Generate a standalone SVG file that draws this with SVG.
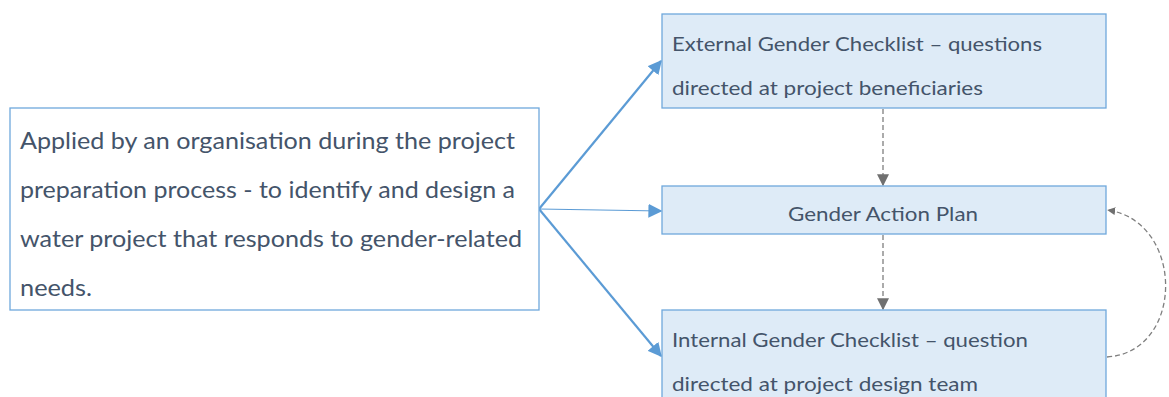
<svg xmlns="http://www.w3.org/2000/svg" width="1169" height="397" viewBox="0 0 1169 397">
<style>
.box{fill:#deebf7;stroke:#6fa8dc;stroke-width:1.3}
.left{fill:#ffffff;stroke:#6fa8dc;stroke-width:1.3}
.t{font-family:Lato,"Liberation Sans",Arial,sans-serif;fill:#44546a}
.l{font-size:23px}
.s{font-size:20px}
.blue{stroke:#5b9bd5;fill:none}
.gray{stroke:#7f7f7f;fill:none;stroke-width:1.3;stroke-dasharray:5,3}
</style>
<defs>
<marker id="abw" viewBox="0 0 10 10" refX="9" refY="5" markerWidth="14" markerHeight="14" markerUnits="userSpaceOnUse" orient="auto">
<path d="M0,0 L10,5 L0,10 z" fill="#5b9bd5"/>
</marker>
<marker id="ag" viewBox="0 0 10 10" refX="9" refY="5" markerWidth="12" markerHeight="12" markerUnits="userSpaceOnUse" orient="auto">
<path d="M0,0 L10,5 L0,10 z" fill="#707070"/>
</marker>
<marker id="ags" viewBox="0 0 10 10" refX="9" refY="5" markerWidth="8" markerHeight="8" markerUnits="userSpaceOnUse" orient="auto">
<path d="M0,0 L10,5 L0,10 z" fill="#707070"/>
</marker>
</defs>
<g id="connectors">
<line class="blue" x1="539" y1="209" x2="661" y2="61" stroke-width="2.2" marker-end="url(#abw)"/>
<line class="blue" x1="539" y1="209" x2="661" y2="211" stroke-width="1.2" marker-end="url(#abw)"/>
<line class="blue" x1="539" y1="209" x2="661" y2="356" stroke-width="2.2" marker-end="url(#abw)"/>
<line class="gray" x1="883" y1="109" x2="883" y2="185" marker-end="url(#ag)"/>
<line class="gray" x1="883" y1="235" x2="883" y2="309" marker-end="url(#ag)"/>
<path class="gray" d="M1107,357 C1185,352 1185,222 1108,210" marker-end="url(#ags)"/>
</g>
<g id="node-left">
<rect class="left" x="10" y="108" width="529" height="202"/>
<text class="t l" x="20" y="149" textLength="495" lengthAdjust="spacingAndGlyphs">Applied by an organisation during the project</text>
<text class="t l" x="20" y="198" textLength="495" lengthAdjust="spacingAndGlyphs">preparation process - to identify and design a</text>
<text class="t l" x="20" y="247" textLength="502" lengthAdjust="spacingAndGlyphs">water project that responds to gender-related</text>
<text class="t l" x="20" y="296" textLength="72" lengthAdjust="spacingAndGlyphs">needs.</text>
</g>
<g id="node-external">
<rect class="box" x="662" y="14" width="444" height="94"/>
<text class="t s" x="672" y="51" textLength="370" lengthAdjust="spacingAndGlyphs">External Gender Checklist – questions</text>
<text class="t s" x="672" y="95" textLength="311" lengthAdjust="spacingAndGlyphs">directed at project beneficiaries</text>
</g>
<g id="node-plan">
<rect class="box" x="662" y="186" width="444" height="48"/>
<text class="t s" x="788" y="221" textLength="190" lengthAdjust="spacingAndGlyphs">Gender Action Plan</text>
</g>
<g id="node-internal">
<rect class="box" x="662" y="310" width="444" height="100"/>
<text class="t s" x="672" y="347" textLength="356" lengthAdjust="spacingAndGlyphs">Internal Gender Checklist – question</text>
<text class="t s" x="672" y="391" textLength="306" lengthAdjust="spacingAndGlyphs">directed at project design team</text>
</g>
</svg>
